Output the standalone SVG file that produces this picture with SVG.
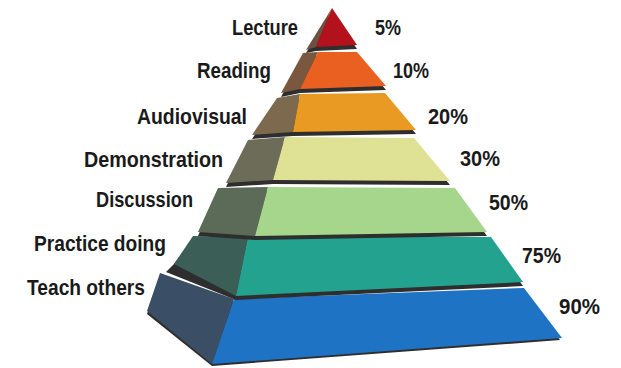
<svg xmlns="http://www.w3.org/2000/svg" width="621" height="368" viewBox="0 0 621 368">
<style>
.lbl{font-family:"Liberation Sans",Arial,sans-serif;font-weight:bold;font-size:22px;fill:#1a1a1a}
.sh{fill:#2e2e2e}
</style>
<rect width="621" height="368" fill="#ffffff"/>
<g id="connectors"></g>
<g id="layer7">
<polygon class="sh" points="234,302 524,291 560,340 212,366 147,314 160,276"/>
<polygon points="160,273 234,299 212,364 147,311" fill="#3a4f66"/>
<polygon points="234,299 524,288 562,338 212,364" fill="#1f73c4"/>
</g>
<g id="layer6">
<polygon class="sh" points="193,239 491,240 523,286 236,300 166,272 174,264"/>
<polygon points="193,236 248,237 236,296 174,264" fill="#3b5f56"/>
<polygon points="248,237 491,237 523,282 236,296" fill="#23a38f"/>
</g>
<g id="layer5">
<polygon class="sh" points="218,191 455,191 487,236 255,240 198,236"/>
<polygon points="218,188 268,187 255,236 198,232" fill="#5b6b58"/>
<polygon points="268,187 455,188 487,232 255,236" fill="#a6d58c"/>
</g>
<g id="layer4">
<polygon class="sh" points="248,143 414,141 450,185 273,184 226,187"/>
<polygon points="248,140 285,137 273,180 226,183" fill="#6c6c58"/>
<polygon points="285,137 414,138 450,181 273,180" fill="#dfe294"/>
</g>
<g id="layer3">
<polygon class="sh" points="277,101 385,96 416,134 293,136 252,139"/>
<polygon points="277,98 300,94 293,132 252,135" fill="#7d6a4e"/>
<polygon points="300,94 385,93 416,130 293,132" fill="#e89a22"/>
</g>
<g id="layer2">
<polygon class="sh" points="303,56 357,55 386,90 300,93 281,97"/>
<polygon points="303,53 318,52 300,89 281,93" fill="#7a5840"/>
<polygon points="318,52 357,52 386,86 300,89" fill="#ea6020"/>
</g>
<g id="layer1">
<polygon class="sh" points="332,11 357,49 316,51 306,53"/>
<polygon points="332,8 316,47 306,50" fill="#6e5040"/>
<polygon points="332,8 357,45 316,47" fill="#b3121c"/>
</g>
<g id="labels">
<text class="lbl" x="232" y="35" textLength="66" lengthAdjust="spacingAndGlyphs">Lecture</text>
<text class="lbl" x="197" y="78" textLength="74" lengthAdjust="spacingAndGlyphs">Reading</text>
<text class="lbl" x="137" y="124" textLength="110" lengthAdjust="spacingAndGlyphs">Audiovisual</text>
<text class="lbl" x="84" y="167" textLength="139" lengthAdjust="spacingAndGlyphs">Demonstration</text>
<text class="lbl" x="96" y="207" textLength="97" lengthAdjust="spacingAndGlyphs">Discussion</text>
<text class="lbl" x="34" y="251" textLength="132" lengthAdjust="spacingAndGlyphs">Practice doing</text>
<text class="lbl" x="27" y="295" textLength="118" lengthAdjust="spacingAndGlyphs">Teach others</text>
<text class="lbl" x="375" y="35" textLength="26" lengthAdjust="spacingAndGlyphs">5%</text>
<text class="lbl" x="393" y="78" textLength="36" lengthAdjust="spacingAndGlyphs">10%</text>
<text class="lbl" x="428" y="124" textLength="40" lengthAdjust="spacingAndGlyphs">20%</text>
<text class="lbl" x="460" y="166" textLength="40" lengthAdjust="spacingAndGlyphs">30%</text>
<text class="lbl" x="489" y="210" textLength="39" lengthAdjust="spacingAndGlyphs">50%</text>
<text class="lbl" x="522" y="263" textLength="39" lengthAdjust="spacingAndGlyphs">75%</text>
<text class="lbl" x="559" y="314" textLength="41" lengthAdjust="spacingAndGlyphs">90%</text>
</g>
</svg>
